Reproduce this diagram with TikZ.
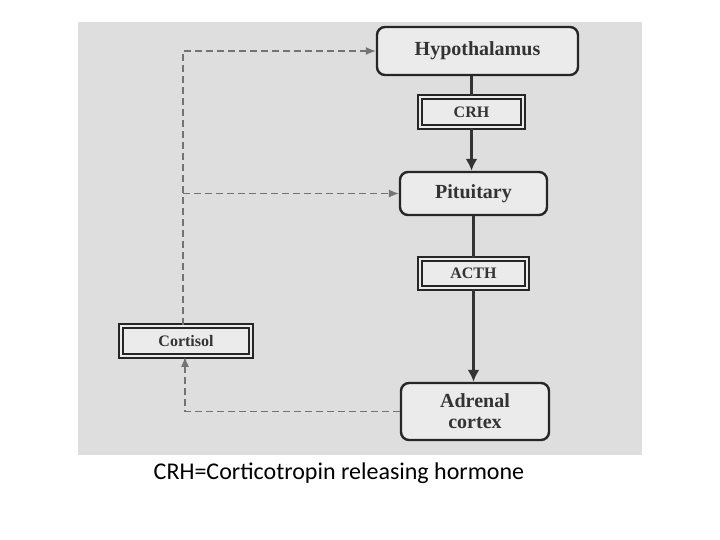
\documentclass[tikz,border=0pt]{standalone}
\usepackage{fontspec}
\usetikzlibrary{arrows.meta}
\setmainfont{Liberation Serif}
\newfontfamily\capfont{Carlito}
\begin{document}
\begin{tikzpicture}[x=1pt,y=-1pt,
 rbox/.style={draw=black!85,line width=2.4pt,rounded corners=8pt,fill=black!8,font=\fontsize{20}{21}\selectfont\bfseries,text=black!80,align=center,inner sep=0pt},
 hbox/.style={draw=black!85,line width=1.8pt,double=black!8,double distance=1.6pt,fill=black!8,font=\fontsize{16}{17}\selectfont\bfseries,text=black!80,inner sep=0pt},
 solid arr/.style={line width=2.6pt,draw=black!80,-{Latex[length=12pt,width=12pt]}},
 dash arr/.style={line width=1.2pt,draw=black!55,dash pattern=on 7pt off 4pt,-{Latex[length=10pt,width=8pt]}},
 dash line/.style={line width=1.2pt,draw=black!55,dash pattern=on 7pt off 4pt}]
\useasboundingbox (0,0) rectangle (720,540);
\fill[black!13] (78,22) rectangle (642,455);
\node[rbox,minimum width=201pt,minimum height=48pt] (hyp) at (477.5,51) {Hypothalamus};
\node[hbox,minimum width=103pt,minimum height=30pt] (crh) at (471.5,112) {CRH};
\node[rbox,minimum width=147pt,minimum height=43pt] (pit) at (473.5,193.5) {Pituitary};
\node[hbox,minimum width=107pt,minimum height=29pt] (acth) at (473.5,273.5) {ACTH};
\node[rbox,minimum width=148pt,minimum height=57pt] (adr) at (475,411.5) {Adrenal\\cortex};
\node[hbox,minimum width=130pt,minimum height=30pt] (cor) at (186,341) {Cortisol};
\draw[line width=2.6pt,draw=black!80] (hyp.south -| crh.north) -- (crh.north);
\draw[solid arr] (crh.south) -- (crh.south |- pit.north);
\draw[line width=2.6pt,draw=black!80] (pit.south -| acth.north) -- (acth.north);
\draw[solid arr] (acth.south) -- (acth.south |- adr.north);
\coordinate (c1) at (185,411.5);
\draw[dash arr] (adr.west) -- (c1) -- (cor.south -| c1);
\coordinate (c2) at (183,51);
\draw[dash arr] (cor.north -| c2) -- (c2) -- (hyp.west);
\coordinate (c3) at (183,193.5);
\draw[dash arr] (c3) -- (pit.west);
\node[font=\capfont\fontsize{24}{25}\selectfont,anchor=center] (cap) at (339,473) {CRH=Corticotropin releasing hormone};
\end{tikzpicture}
\end{document}
